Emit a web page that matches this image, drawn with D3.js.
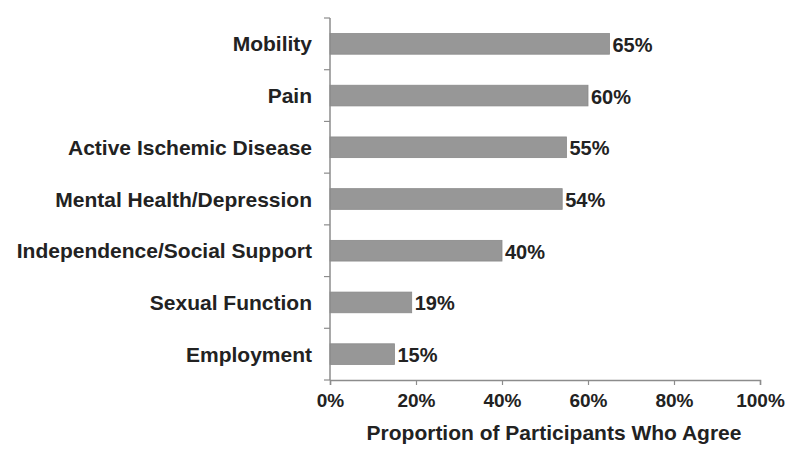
<!DOCTYPE html>
<html>
<head>
<meta charset="utf-8">
<script src="https://cdn.jsdelivr.net/npm/d3@7"></script>
<style>
  body { margin: 0; background: #fff; }
  text { font-family: "Liberation Sans", Arial, sans-serif; font-weight: bold; fill: #222; }
</style>
</head>
<body>
<script>
const categories = ["Mobility", "Pain", "Active Ischemic Disease", "Mental Health/Depression",
  "Independence/Social Support", "Sexual Function", "Employment"]
const values = [65, 60, 55, 54, 40, 19, 15]
const xTicks = [0, 20, 40, 60, 80, 100]

const w = 800
const h = 460
const margin = { top: 18, right: 40, bottom: 80, left: 330 }

const svg = d3.select("body")
  .append("svg")
  .attr("width", w)
  .attr("height", h)

const xScale = d3.scaleLinear()
  .domain([0, 100])
  .range([margin.left, 760])

const yScale = d3.scaleBand()
  .domain(categories)
  .range([margin.top, 380])
  .paddingInner(0.6)
  .paddingOuter(0.3)

const step = yScale.step()

// bars
svg.selectAll("rect.bar")
  .data(values)
  .enter()
  .append("rect")
  .attr("class", "bar")
  .attr("x", xScale(0))
  .attr("y", (d, i) => yScale(categories[i]))
  .attr("width", (d) => xScale(d) - xScale(0))
  .attr("height", yScale.bandwidth())
  .style("fill", "#979797")
  .style("stroke", "#8a8a8a")
  .style("stroke-width", 0.8)

// value labels
svg.selectAll("text.value")
  .data(values)
  .enter()
  .append("text")
  .attr("class", "value")
  .attr("x", (d) => xScale(d) + 3)
  .attr("y", (d, i) => yScale(categories[i]) + yScale.bandwidth() / 2 + 8)
  .style("font-size", "20px")
  .text((d) => d + "%")

// category labels
svg.selectAll("text.cat")
  .data(categories)
  .enter()
  .append("text")
  .attr("class", "cat")
  .attr("x", 312)
  .attr("y", (d) => yScale(d) + yScale.bandwidth() / 2 + 7.5)
  .attr("text-anchor", "end")
  .style("font-size", "21px")
  .text((d) => d)

// y axis line and separator ticks
const axisColor = "#8c8c8c"
svg.append("line")
  .attr("x1", xScale(0)).attr("x2", xScale(0))
  .attr("y1", margin.top).attr("y2", 380)
  .style("stroke", axisColor).style("stroke-width", 1.5)

const sepTicks = d3.range(categories.length + 1).map((i) => margin.top + i * step)
svg.selectAll("line.ytick")
  .data(sepTicks)
  .enter()
  .append("line")
  .attr("class", "ytick")
  .attr("x1", xScale(0) - 6).attr("x2", xScale(0))
  .attr("y1", (d) => d).attr("y2", (d) => d)
  .style("stroke", axisColor).style("stroke-width", 1.2)

// x axis
const xAxis = d3.axisBottom(xScale)
  .tickValues(xTicks)
  .tickFormat((d) => d + "%")
  .tickSizeOuter(0)
  .tickSize(5)
  .tickPadding(9)

const gx = svg.append("g")
  .attr("transform", "translate(0,380)")
  .call(xAxis)
gx.select(".domain").style("stroke", axisColor).style("stroke-width", 1.5)
gx.selectAll(".tick line").style("stroke", axisColor).style("stroke-width", 1.2)
gx.selectAll(".tick text").style("font-size", "19px").style("fill", "#222")
  .attr("font-family", null)

svg.append("text")
  .attr("x", 554)
  .attr("y", 440)
  .attr("text-anchor", "middle")
  .style("font-size", "21px")
  .text("Proportion of Participants Who Agree")
</script>
</body>
</html>
